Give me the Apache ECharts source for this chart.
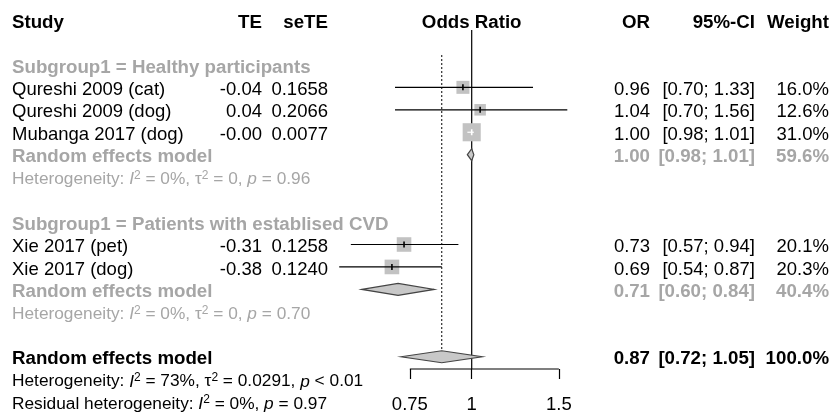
<!DOCTYPE html>
<html>
<head>
<meta charset="utf-8">
<script src="https://cdn.jsdelivr.net/npm/echarts@6/dist/echarts.min.js"></script>
<style>html,body{margin:0;padding:0;background:#fff;}#chart{width:835px;height:415px;}</style>
</head>
<body>
<div id="chart"></div>
<script>
// ---- data ----
const studyLabels = ['Qureshi 2009 (cat)', 'Qureshi 2009 (dog)', 'Mubanga 2017 (dog)', 'Xie 2017 (pet)', 'Xie 2017 (dog)'];
const teLabels = ['-0.04', '0.04', '-0.00', '-0.31', '-0.38'];
const seTELabels = ['0.1658', '0.2066', '0.0077', '0.1258', '0.1240'];
const studyOR = [0.96, 1.04, 1.00, 0.73, 0.69];
const studyLow = [0.70, 0.70, 0.98, 0.57, 0.54];
const studyHigh = [1.33, 1.56, 1.01, 0.94, 0.87];
const studyWeight = [16.0, 12.6, 31.0, 20.1, 20.3];
const studyRows = [3, 4, 5, 10, 11];

const subgroupLabels = ['Subgroup1 = Healthy participants', 'Subgroup1 = Patients with establised CVD'];
const subgroupRows = [2, 9];

const pooledLabels = ['Random effects model', 'Random effects model', 'Random effects model'];
const pooledOR = [1.00, 0.71, 0.87];
const pooledLow = [0.98, 0.60, 0.72];
const pooledHigh = [1.01, 0.84, 1.05];
const pooledWeight = [59.6, 40.4, 100.0];
const pooledRows = [6, 12, 15];
const pooledIsSub = [true, true, false];

const hetRows = [7, 13, 16, 17];
const hetTexts = [
  ['Heterogeneity: ', ['i', 'I'], ['s', '2'], ' = 0%, τ', ['s', '2'], ' = 0, ', ['i', 'p'], ' = 0.96'],
  ['Heterogeneity: ', ['i', 'I'], ['s', '2'], ' = 0%, τ', ['s', '2'], ' = 0, ', ['i', 'p'], ' = 0.70'],
  ['Heterogeneity: ', ['i', 'I'], ['s', '2'], ' = 73%, τ', ['s', '2'], ' = 0.0291, ', ['i', 'p'], ' < 0.01'],
  ['Residual heterogeneity: ', ['i', 'I'], ['s', '2'], ' = 0%, ', ['i', 'p'], ' = 0.97']
];
const hetIsSub = [true, true, false, false];

const headers = ['Study', 'TE', 'seTE', 'Odds Ratio', 'OR', '95%-CI', 'Weight'];
const tickValues = [0.75, 1, 1.5];
const tickLabels = ['0.75', '1', '1.5'];
const refOR = 1;

// ---- layout ----
const FONT = '"Liberation Sans", Arial, Helvetica, sans-serif';
const FS = 18.5;
const FS_BOLD = 18.7;
const FS_HET = 17.3;
const GRAY = '#a6a6a6';
const BLACK = '#000';
const ROW0 = 22.5, ROWH = 22.45;
const rowY = r => ROW0 + ROWH * r;
const colX = { study: 12, te: 262, se: 328, plot: 471.7, or: 650, ci: 755, w: 829 };
const yMin = -20 / ROWH, yMax = yMin + 369 / ROWH;

const fmt2 = v => v.toFixed(2);
const ciStr = (l, h) => '[' + fmt2(l) + '; ' + fmt2(h) + ']';
const wStr = w => w.toFixed(1) + '%';

const graphics = [];
function addText(x, r, text, align, color, bold, rich) {
  const st = {
    text: text, x: 0, y: 0,
    fill: color, fontSize: bold ? FS_BOLD : FS, fontFamily: FONT,
    fontWeight: bold ? 'bold' : 'normal',
    align: align, verticalAlign: 'middle'
  };
  if (rich) st.rich = rich;
  graphics.push({ type: 'text', x: x, y: rowY(r), silent: true, style: st });
}

// headers
const hdrX = [colX.study, colX.te, colX.se, colX.plot, colX.or, colX.ci, colX.w];
const hdrAlign = ['left', 'right', 'right', 'center', 'right', 'right', 'right'];
headers.forEach((h, i) => addText(hdrX[i], 0, h, hdrAlign[i], BLACK, true));

subgroupLabels.forEach((s, i) => addText(colX.study, subgroupRows[i], s, 'left', GRAY, true));

studyLabels.forEach((s, i) => {
  const r = studyRows[i];
  addText(colX.study, r, s, 'left', BLACK, false);
  addText(colX.te, r, teLabels[i], 'right', BLACK, false);
  addText(colX.se, r, seTELabels[i], 'right', BLACK, false);
  addText(colX.or, r, fmt2(studyOR[i]), 'right', BLACK, false);
  addText(colX.ci, r, ciStr(studyLow[i], studyHigh[i]), 'right', BLACK, false);
  addText(colX.w, r, wStr(studyWeight[i]), 'right', BLACK, false);
});

pooledLabels.forEach((s, i) => {
  const r = pooledRows[i];
  const c = pooledIsSub[i] ? GRAY : BLACK;
  addText(colX.study, r, s, 'left', c, true);
  addText(colX.or, r, fmt2(pooledOR[i]), 'right', c, true);
  addText(colX.ci, r, ciStr(pooledLow[i], pooledHigh[i]), 'right', c, true);
  addText(colX.w, r, wStr(pooledWeight[i]), 'right', c, true);
});

hetTexts.forEach((parts, i) => {
  const c = hetIsSub[i] ? GRAY : BLACK;
  const rich = {
    n: { fontSize: FS_HET, fontFamily: FONT, fill: c, color: c, lineHeight: 20, verticalAlign: 'middle' },
    i: { fontSize: FS_HET, fontFamily: FONT, fontStyle: 'italic', fill: c, color: c, lineHeight: 20, verticalAlign: 'middle' },
    s: { fontSize: 12, fontFamily: FONT, fill: c, color: c, lineHeight: 9, verticalAlign: 'top' }
  };
  const str = parts.map(p => Array.isArray(p) ? '{' + p[0] + '|' + p[1] + '}' : '{n|' + p + '}').join('');
  addText(colX.study, hetRows[i], str, 'left', c, false, rich);
});

// ---- series data ----
const studyData = studyOR.map((v, i) => [Math.log(v), studyRows[i], Math.log(studyLow[i]), Math.log(studyHigh[i]), studyWeight[i]]);
const pooledData = pooledOR.map((v, i) => [Math.log(v), pooledRows[i], Math.log(pooledLow[i]), Math.log(pooledHigh[i])]);
const overallX = Math.log(pooledOR[2]);

const chart = echarts.init(document.getElementById('chart'), null, { renderer: 'canvas' });
chart.setOption({
  animation: false,
  backgroundColor: '#fff',
  grid: { left: 321.2, width: 301, top: 0, height: 369 },
  xAxis: {
    type: 'value', min: -0.7, max: 0.7, position: 'bottom',
    axisLine: { show: false, onZero: false },
    splitLine: { show: false },
    axisTick: { show: true, customValues: tickValues.map(Math.log), length: 10, lineStyle: { color: '#000', width: 1.2 } },
    axisLabel: {
      customValues: tickValues.map(Math.log),
      formatter: v => {
        let best = 0, bd = Infinity;
        tickValues.forEach((t, i) => { const d = Math.abs(Math.log(t) - v); if (d < bd) { bd = d; best = i; } });
        return tickLabels[best];
      },
      fontSize: FS, fontFamily: FONT, color: '#000', margin: 26
    }
  },
  yAxis: { type: 'value', inverse: true, min: yMin, max: yMax, show: false },
  graphic: graphics,
  series: [
    {
      type: 'line', silent: true, symbol: 'none', clip: false,
      data: [[Math.log(refOR), 0.45], [Math.log(refOR), yMax]],
      lineStyle: { color: '#000', width: 1.2 }, z: 3
    },
    {
      type: 'line', silent: true, symbol: 'none', clip: false,
      data: [[overallX, 1.56], [overallX, 14.83]],
      lineStyle: { color: '#000', width: 1, type: [2, 2] }, z: 3
    },
    {
      type: 'line', silent: true, symbol: 'none', clip: false,
      data: [[Math.log(tickValues[0]), yMax], [Math.log(tickValues[tickValues.length - 1]), yMax]],
      lineStyle: { color: '#000', width: 1.2 }, z: 3
    },
    {
      type: 'custom', silent: true, clip: false, z: 4,
      data: studyData,
      renderItem: (params, api) => {
        const c = api.coord([api.value(0), api.value(1)]);
        const l = api.coord([api.value(2), api.value(1)]);
        const h = api.coord([api.value(3), api.value(1)]);
        const s = 3.25 * Math.sqrt(api.value(4));
        const inside = (h[0] - l[0]) < s;
        const col = inside ? '#fff' : '#000';
        return {
          type: 'group', children: [
            { type: 'rect', shape: { x: c[0] - s / 2, y: c[1] - s / 2, width: s, height: s }, style: { fill: '#c2c2c2' } },
            { type: 'line', shape: { x1: l[0], y1: c[1], x2: h[0], y2: c[1] }, style: { stroke: col, lineWidth: 1.2 } },
            { type: 'line', shape: { x1: c[0], y1: c[1] - 3, x2: c[0], y2: c[1] + 3 }, style: { stroke: col, lineWidth: 1.6 } }
          ]
        };
      }
    },
    {
      type: 'custom', silent: true, clip: false, z: 5,
      data: pooledData,
      renderItem: (params, api) => {
        const c = api.coord([api.value(0), api.value(1)]);
        const l = api.coord([api.value(2), api.value(1)]);
        const h = api.coord([api.value(3), api.value(1)]);
        const hh = 6;
        return {
          type: 'polygon',
          shape: { points: [[l[0], c[1]], [c[0], c[1] - hh], [h[0], c[1]], [c[0], c[1] + hh]] },
          style: { fill: '#c8c8c8', stroke: '#444', lineWidth: 1.2 }
        };
      }
    }
  ]
});
</script>
</body>
</html>
